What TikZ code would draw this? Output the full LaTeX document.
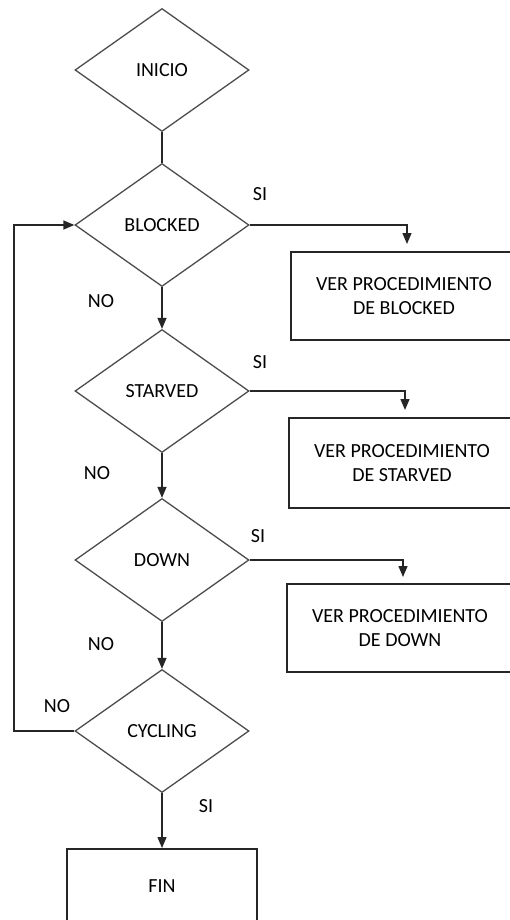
\documentclass[tikz,border=0pt]{standalone}
\usepackage{fontspec}
\setmainfont{Carlito}
\usetikzlibrary{shapes.geometric,arrows.meta,positioning}

\begin{document}
\begin{tikzpicture}[x=1pt,y=-1pt,align=center,font=\fontsize{20}{24}\selectfont,
    decision/.style={diamond,draw=black!70,line width=1.3pt,minimum width=174pt,minimum height=123pt,inner sep=0pt},
    procbox/.style={rectangle,draw=black!85,line width=2pt,minimum width=226pt,minimum height=88pt},
    flow/.style={black!85,line width=1.4pt,-{Triangle[length=11pt,width=9pt]}}]
      \useasboundingbox (0,0) rectangle (509,920);

      %decisions
      \node[decision] (inicio) at (162,70) {INICIO};
      \node[decision] (blocked) at (162,225) {BLOCKED};
      \node[decision] (starved) at (162,391) {STARVED};
      \node[decision] (down) at (162,560) {DOWN};
      \node[decision] (cycling) at (162,731) {CYCLING};

      %procedures
      \node[procbox] (pblocked) at (404,296) {VER PROCEDIMIENTO\\DE BLOCKED};
      \node[procbox,minimum height=90pt] (pstarved) at (402,463) {VER PROCEDIMIENTO\\DE STARVED};
      \node[procbox] (pdown) at (400,628) {VER PROCEDIMIENTO\\DE DOWN};
      \node[procbox,minimum width=190pt,minimum height=74pt] (fin) at (162,886) {FIN};

      %main line
      \draw[black!85,line width=1.4pt] (inicio.south) -- (blocked.north);
      \draw[flow] (blocked.south) -- (starved.north);
      \draw[flow] (starved.south) -- (down.north);
      \draw[flow] (down.south) -- (cycling.north);
      \draw[flow] (cycling.south) -- (fin.north);

      %yes branches
      \draw[flow,shorten >=7pt] (blocked.east) -| ([xshift=3pt]pblocked.north);
      \draw[flow,shorten >=7pt] (starved.east) -| ([xshift=3pt]pstarved.north);
      \draw[flow,shorten >=6pt] (down.east) -| ([xshift=3pt]pdown.north);

      %loop back
      \coordinate (back) at (14,731);
      \draw[flow] (cycling.west) -- (back) |- (blocked.west);

      %labels
      \node (si1) at (260,194) {SI};
      \node (no1) at (101,301) {NO};
      \node (si2) at (260,362) {SI};
      \node (no2) at (97,473) {NO};
      \node (si3) at (258,536) {SI};
      \node (no3) at (101,644) {NO};
      \node (no4) at (57,706) {NO};
      \node (si4) at (206,806) {SI};

    \end{tikzpicture}
\end{document}
